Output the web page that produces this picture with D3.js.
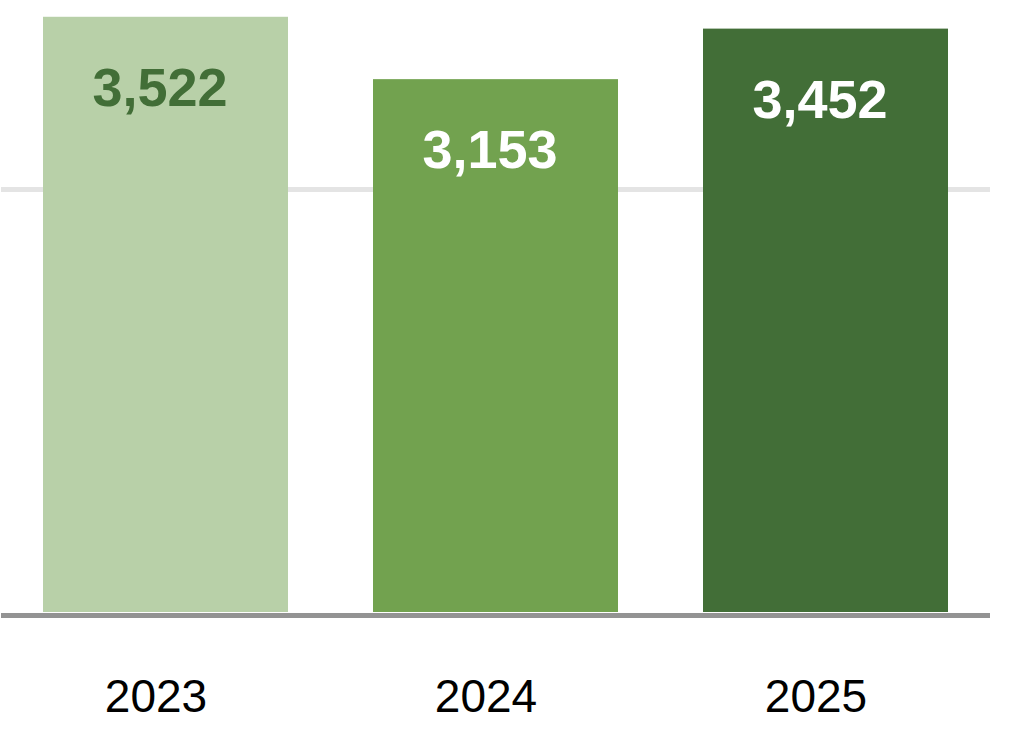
<!DOCTYPE html>
<html><head><meta charset="utf-8">
<script src="https://cdn.jsdelivr.net/npm/d3@7"></script>
<style>html,body{margin:0;padding:0;background:#fff;}svg{display:block;}</style>
</head><body>
<svg id="chart" width="1032" height="744"></svg>
<script>
const categories = ["2023", "2024", "2025"];
const values = [3522, 3153, 3452];
const barColors = ["#b8d0a8", "#72a24f", "#426e37"];
const labelColors = ["#426e37", "#ffffff", "#ffffff"];
const gridTicks = [2500];

const svg = d3.select("#chart");
const x = d3.scaleBand().domain(categories).range([1, 990]).paddingInner(0.2576).paddingOuter(0.1273);
const y = d3.scaleLinear().domain([0, 2500]).range([612, 189.5]);

// gridlines
svg.append("g").selectAll("line").data(gridTicks).join("line")
  .attr("x1", 1).attr("x2", 990)
  .attr("y1", d => y(d)).attr("y2", d => y(d))
  .attr("stroke", "#e4e4e4").attr("stroke-width", 5);

// bars
svg.append("g").selectAll("rect").data(values).join("rect")
  .attr("x", (d, i) => x(categories[i]))
  .attr("width", x.bandwidth())
  .attr("y", d => y(d))
  .attr("height", d => y(0) - y(d))
  .attr("fill", (d, i) => barColors[i]);

// baseline
svg.append("line").attr("x1", 1).attr("x2", 990)
  .attr("y1", 615.5).attr("y2", 615.5)
  .attr("stroke", "#939393").attr("stroke-width", 5);

// value labels
const fmt = d3.format(",");
svg.append("g").selectAll("text").data(values).join("text")
  .attr("x", (d, i) => x(categories[i]) + x.bandwidth() / 2 - 5.5)
  .attr("y", d => y(d) + 89)
  .attr("text-anchor", "middle")
  .attr("font-family", "Liberation Sans, Arial, sans-serif")
  .attr("font-weight", "bold")
  .attr("font-size", 54)
  .attr("fill", (d, i) => labelColors[i])
  .text(d => fmt(d));

// category labels
svg.append("g").selectAll("text").data(categories).join("text")
  .attr("x", d => x(d) + x.bandwidth() / 2 - 9.5)
  .attr("y", 712)
  .attr("text-anchor", "middle")
  .attr("font-family", "Liberation Sans, Arial, sans-serif")
  .attr("font-size", 46)
  .attr("fill", "#000")
  .text(d => d);
</script>
</body></html>
